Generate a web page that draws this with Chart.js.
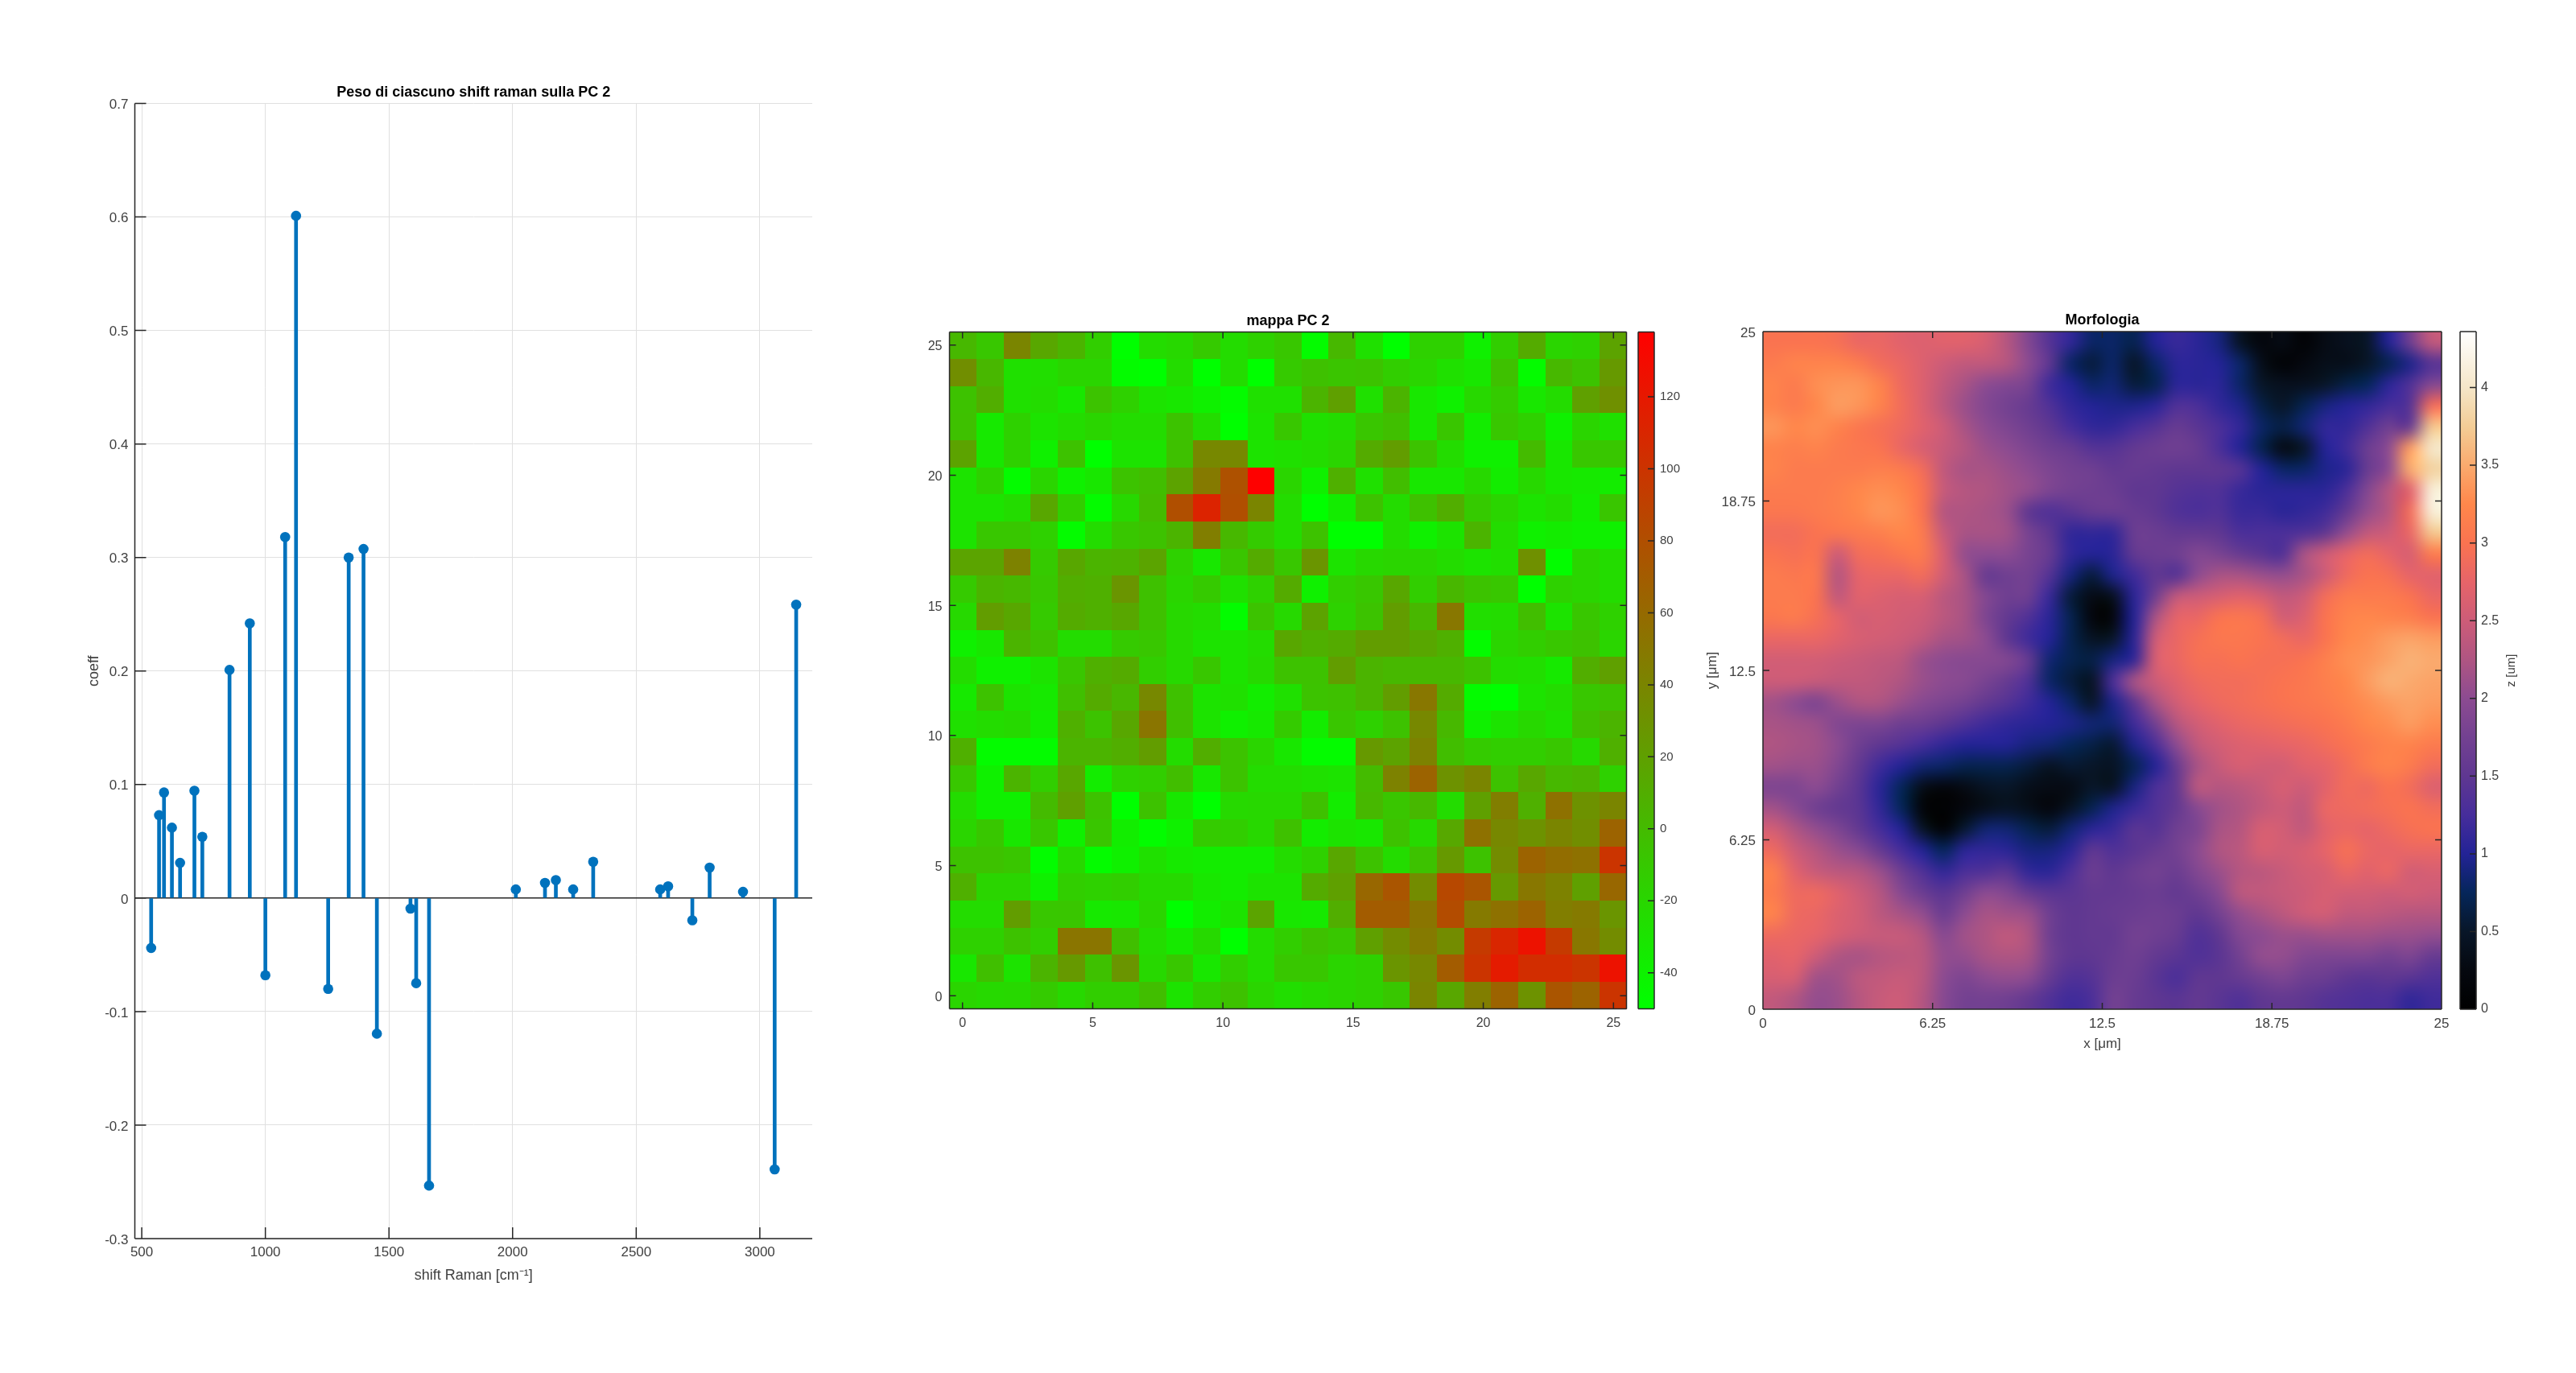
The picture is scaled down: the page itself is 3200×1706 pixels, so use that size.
<!DOCTYPE html>
<html>
<head>
<meta charset="utf-8">
<title>PC 2</title>
<script src="https://cdn.jsdelivr.net/npm/chart.js@4"></script>
<style>
html, body { margin: 0; background: #fff; }
canvas { position: absolute; left: 0; top: 0; }
</style>
</head>
<body>
<canvas id="stem" width="3200" height="1706"></canvas>
<canvas id="pc" width="3200" height="1706"></canvas>
<canvas id="pcBar" width="3200" height="1706"></canvas>
<canvas id="morph" width="3200" height="1706"></canvas>
<canvas id="morphBar" width="3200" height="1706"></canvas>
<script>
// stem plot
const stemShift = [538, 570, 590, 622, 655, 713, 745, 855, 937, 1000, 1080, 1124, 1254, 1337, 1397, 1451, 1587, 1610, 1662, 2013, 2131, 2175, 2245, 2326, 2597, 2629, 2727, 2797, 2932, 3060, 3147];
const stemCoeff = [-0.044, 0.073, 0.093, 0.062, 0.031, 0.0945, 0.054, 0.201, 0.242, -0.068, 0.318, 0.601, -0.08, 0.3, 0.3075, -0.1195, -0.0093, -0.075, -0.2533, 0.0076, 0.0134, 0.0158, 0.0076, 0.032, 0.0076, 0.0103, -0.0196, 0.0268, 0.0055, -0.239, 0.2585];
const shiftTicks = [500, 1000, 1500, 2000, 2500, 3000];
const coeffTicks = [-0.3, -0.2, -0.1, 0, 0.1, 0.2, 0.3, 0.4, 0.5, 0.6, 0.7];

// mappa PC 2, rows from the top of the picture
const pcMap = [
  [2,-9,40,15,5,-14,-50,-24,-21,-11,-24,-16,-9,-47,2,-27,-50,-16,-16,-39,-14,12,-19,-16,18],
  [33,3,-27,-26,-19,-19,-47,-50,-24,-50,-24,-50,-11,-4,-7,-6,-14,-19,-27,-32,-4,-47,2,-6,25],
  [-5,10,-27,-24,-32,-6,-16,-29,-32,-39,-47,-27,-27,5,20,-27,5,-32,-39,-21,-12,-32,-24,20,32],
  [-4,-34,-16,-29,-24,-19,-24,-24,-6,-24,-50,-29,-9,-27,-24,-8,-3,-32,-8,-36,-9,-16,-39,-19,-27],
  [18,-32,-16,-39,-5,-50,-29,-29,-4,38,38,-29,-27,-24,-19,12,22,-6,-24,-39,-39,0,-32,-9,-9],
  [-29,-16,-47,-19,-39,-32,-6,-2,18,48,78,137,-19,-39,8,-27,-2,-32,-32,-21,-36,-21,-32,-34,-36],
  [-29,-29,-24,15,-14,-47,-21,0,80,112,80,40,-24,-50,-36,-5,-24,-4,10,-11,-19,-29,-24,-36,-8],
  [-29,-9,-9,-16,-47,-24,-9,-5,5,45,2,-12,-24,-5,-50,-50,-24,-39,-29,5,-24,-39,-36,-39,-39],
  [17,17,42,-11,15,5,7,17,-16,-32,-8,12,-9,28,-29,-21,-19,-19,-24,-29,-26,32,-48,-19,-24],
  [-11,5,2,-9,10,8,28,-4,-19,-11,-27,-16,12,-39,-14,-9,15,-14,3,-6,-9,-50,-16,-19,-24],
  [-22,22,15,-11,12,8,15,-4,-21,-24,-48,-6,-22,18,-17,-6,22,3,50,-26,-24,-2,-29,-9,-16],
  [-39,-32,5,-4,-24,-24,-11,-9,-22,-29,-29,-24,15,8,12,22,22,15,8,-47,-19,-14,-9,-5,-19],
  [-24,-39,-39,-29,-8,8,12,-14,-22,-9,-29,-22,-5,-5,22,5,2,2,2,-5,-24,-26,-34,10,20],
  [-34,-5,-29,-34,-3,12,3,38,-4,-29,-27,-37,-27,-6,-4,5,22,50,12,-47,-50,-29,-24,-9,-6],
  [-27,-24,-22,-36,8,-6,15,52,-3,-29,-39,-34,-12,-36,-8,-16,-5,38,2,-39,-29,-21,-27,-3,5],
  [8,-47,-47,-47,5,5,10,22,-24,10,-6,-19,-32,-47,-47,25,18,42,-2,-12,-14,-14,-9,-22,8],
  [-9,-39,5,-14,15,-36,-16,-14,-2,-32,-6,-24,-24,-27,-29,0,42,65,30,40,-5,15,2,5,-16],
  [-24,-39,-39,0,20,-5,-50,-5,-32,-50,-22,-21,-21,-4,-36,2,-8,2,-24,20,45,8,55,30,40],
  [-19,-9,-32,-9,-39,-8,-37,-48,-39,-12,-14,-21,-4,-36,-29,-32,-5,-22,14,55,38,30,40,33,65],
  [-5,-5,-8,-48,-21,-47,-39,-27,-34,-36,-37,-37,-24,-16,15,-5,-24,-5,25,-5,35,65,58,55,100],
  [8,-19,-19,-39,-14,-16,-14,-22,-22,-32,-36,-29,-29,12,20,62,75,35,85,75,25,50,42,20,62],
  [-24,-24,22,-9,-8,-34,-32,-19,-50,-37,-29,17,-32,-34,10,70,70,52,82,48,55,65,45,48,28],
  [-16,-16,-5,-14,52,52,-3,-24,-34,-22,-50,-24,-14,-4,-9,20,35,48,35,95,110,125,95,50,35],
  [-32,-3,-29,5,25,-4,28,-21,-9,-32,-14,-24,-9,-9,-19,-16,28,38,70,100,118,105,105,100,125],
  [-19,-22,-21,-12,-21,-14,-14,-2,-29,-14,-5,-19,-26,-22,-19,-16,-9,40,15,45,65,30,75,65,100]
];
const pcTicks = [0, 5, 10, 15, 20, 25];
const pcBarTicks = [-40, -20, 0, 20, 40, 60, 80, 100, 120];
const pcMin = -50;
const pcMax = 138;

// Morfologia, z in um, 32 x 32, rows from the top of the picture
const morphology = [
  [3.0,3.0,3.0,2.95,2.8,2.8,2.7,2.65,2.7,2.7,2.6,2.3,1.9,1.4,1.1,0.8,0.8,0.7,1.0,1.15,1.05,0.9,0.45,0.2,0.3,0.1,0.3,0.4,0.5,1.0,1.7,2.4],
  [3.1,3.2,3.2,3.2,3.1,2.9,2.8,2.65,2.5,2.4,2.4,2.3,2.0,1.5,0.8,0.6,0.8,0.5,0.8,1.05,1.05,1.0,0.8,0.35,0.1,0.25,0.35,0.35,0.5,0.7,0.95,1.4],
  [3.2,3.1,3.3,3.35,3.35,3.2,2.85,2.65,2.4,2.2,2.0,1.9,1.8,1.2,1.0,0.8,0.85,0.6,0.7,1.05,1.05,1.05,0.8,0.5,0.4,0.4,0.5,0.65,0.75,1.05,1.35,1.9],
  [3.2,3.1,3.25,3.4,3.35,3.2,2.9,2.65,2.35,2.1,1.9,1.75,1.6,1.35,1.1,1.0,0.95,0.95,1.05,1.35,1.3,1.1,0.95,0.65,0.5,0.7,0.9,1.0,1.1,1.25,1.4,2.9],
  [3.35,3.25,3.3,3.2,3.05,2.95,2.85,2.7,2.5,2.2,2.0,1.85,1.7,1.5,1.25,1.1,1.1,1.25,1.4,1.6,1.45,1.3,1.1,0.8,0.65,0.85,1.1,1.1,1.35,1.7,1.6,3.7],
  [3.2,3.15,3.2,3.1,3.05,3.0,2.8,2.6,2.45,2.3,2.1,2.0,1.85,1.7,1.6,1.4,1.4,1.55,1.65,1.7,1.6,1.3,1.0,0.7,0.3,0.5,1.0,1.2,1.65,2.0,3.4,4.0],
  [3.2,3.1,3.1,3.1,3.1,3.15,3.1,2.9,2.4,2.2,2.2,2.1,2.0,1.85,1.75,1.7,1.55,1.6,1.55,1.5,1.5,1.5,1.4,1.0,0.8,0.8,0.95,1.05,1.6,2.0,3.5,3.8],
  [3.1,3.1,3.1,3.15,3.25,3.3,3.25,3.0,2.45,2.3,2.25,2.15,2.05,1.85,1.75,1.7,1.65,1.5,1.5,1.4,1.35,1.35,1.15,1.05,1.05,1.05,1.05,1.3,1.9,2.3,2.7,4.1],
  [3.05,3.05,3.1,3.15,3.25,3.35,3.3,3.0,2.3,2.25,2.2,2.1,1.5,1.35,1.45,1.6,1.65,1.6,1.5,1.35,1.3,1.35,1.15,1.15,1.05,1.1,1.2,1.55,2.05,2.3,2.9,4.1],
  [2.9,2.9,3.0,3.05,3.1,3.15,3.25,3.1,2.45,2.2,2.2,2.15,1.8,1.5,1.1,1.1,1.1,1.65,1.65,1.55,1.55,1.5,1.3,1.3,1.3,1.35,1.5,2.05,2.4,2.5,2.8,3.7],
  [3.0,2.95,3.0,2.5,2.9,2.95,3.05,3.1,2.6,2.05,2.0,2.0,1.8,1.6,1.1,1.0,1.05,1.55,1.65,1.7,1.9,1.8,1.6,1.45,1.35,2.2,2.5,2.75,2.9,2.75,2.6,3.1],
  [3.1,3.05,3.05,2.3,2.75,2.8,2.8,2.9,2.55,2.2,1.6,1.7,1.75,1.4,0.9,0.6,0.95,1.2,1.5,1.4,2.0,2.2,2.2,2.1,2.05,2.2,2.5,2.85,3.0,2.95,2.75,2.7],
  [3.1,3.1,3.0,2.4,2.7,2.65,2.6,2.6,2.35,2.2,1.9,1.7,1.7,1.15,0.6,0.3,0.4,1.05,1.7,2.4,2.5,2.6,2.7,2.6,2.4,2.5,2.9,3.1,3.1,3.1,3.0,2.8],
  [3.05,3.1,2.95,2.75,2.55,2.6,2.55,2.5,2.35,2.2,1.85,1.55,1.35,1.05,0.7,0.2,0.2,1.0,2.2,2.75,2.8,3.0,3.05,2.95,2.55,2.65,3.0,3.2,3.25,3.2,3.15,3.0],
  [2.8,2.8,2.8,2.7,2.6,2.55,2.5,2.4,2.2,2.15,2.0,1.5,1.2,1.0,0.7,0.45,0.5,1.05,2.5,2.8,2.95,3.05,3.05,3.0,2.9,2.8,3.0,3.25,3.3,3.4,3.45,3.4],
  [2.55,2.55,2.55,2.5,2.45,2.4,2.35,2.1,2.0,1.95,1.95,1.9,1.6,0.85,0.7,0.65,0.9,1.1,2.6,2.8,2.95,2.95,3.0,2.95,2.95,3.0,3.15,3.3,3.35,3.45,3.55,3.5],
  [2.5,2.5,2.45,2.4,2.4,2.35,2.25,2.1,2.0,1.95,1.8,1.6,1.35,0.8,0.6,0.45,1.3,2.2,2.5,2.7,2.85,2.9,2.9,2.95,3.0,3.05,3.15,3.25,3.4,3.55,3.5,3.45],
  [2.15,2.0,1.85,2.1,2.25,2.25,2.1,1.95,1.85,1.75,1.55,1.4,1.2,1.0,0.8,0.5,0.95,1.5,2.2,2.55,2.75,2.85,2.9,2.95,3.0,3.05,3.1,3.2,3.3,3.4,3.45,3.4],
  [2.2,2.15,2.1,1.9,1.85,1.85,1.7,1.65,1.5,1.35,1.2,1.1,1.05,1.0,0.95,0.85,0.85,1.2,1.75,2.3,2.55,2.7,2.8,2.85,2.9,2.95,3.0,3.1,3.25,3.3,3.4,3.3],
  [2.25,2.2,2.15,2.0,1.7,1.5,1.4,1.25,1.1,1.0,1.0,1.0,0.9,0.85,0.75,0.65,0.55,0.95,1.3,2.0,2.4,2.55,2.65,2.7,2.75,2.8,2.9,3.0,3.1,3.2,3.2,3.1],
  [2.15,2.1,2.1,1.9,1.55,1.2,1.0,0.85,0.8,0.7,0.7,0.7,0.6,0.45,0.55,0.5,0.45,0.7,1.0,1.6,2.2,2.45,2.6,2.55,2.55,2.7,2.75,2.9,3.1,3.2,3.1,2.9],
  [1.85,1.85,2.0,1.75,1.45,1.05,0.75,0.35,0.2,0.3,0.45,0.5,0.35,0.3,0.3,0.5,0.45,0.9,1.3,1.55,2.35,2.3,2.35,2.45,2.6,2.5,2.7,2.9,2.85,3.0,2.9,2.65],
  [2.15,1.95,1.7,1.55,1.45,1.1,0.75,0.15,0.05,0.2,0.35,0.45,0.35,0.2,0.45,0.7,0.95,1.15,1.35,1.55,1.95,2.15,2.25,2.4,2.5,2.4,2.8,2.85,2.9,2.95,3.0,2.9],
  [2.55,2.25,2.05,1.85,1.55,1.25,1.0,0.5,0.1,0.55,0.85,0.85,0.7,0.6,0.85,1.05,1.15,1.45,1.4,1.7,1.85,2.2,2.3,2.6,2.55,2.4,2.7,2.8,2.75,2.85,2.95,3.0],
  [2.85,2.5,2.3,2.1,1.95,1.6,1.25,1.0,0.75,1.05,1.1,1.05,0.9,0.9,1.05,1.5,1.35,1.45,1.6,1.75,2.0,2.25,2.35,2.6,2.55,2.6,2.75,2.95,2.8,2.75,2.8,2.8],
  [3.15,2.7,2.45,2.35,2.3,2.1,1.7,1.35,1.1,1.3,1.35,1.45,1.1,1.05,1.3,1.65,1.5,1.65,1.75,1.65,1.9,2.1,2.3,2.35,2.45,2.55,2.6,2.8,2.7,2.8,2.55,2.6],
  [3.1,2.85,2.85,2.7,2.5,2.3,1.95,1.65,1.45,1.7,2.0,1.9,1.6,1.45,1.45,1.55,1.55,1.6,1.65,1.55,1.7,1.95,2.35,2.4,2.45,2.5,2.6,2.55,2.55,2.5,2.55,2.5],
  [3.2,2.85,2.8,2.65,2.55,2.35,2.2,2.05,1.65,2.0,2.2,2.15,2.1,1.7,1.5,1.55,1.6,1.65,1.7,1.65,1.5,1.75,2.05,2.2,2.35,2.5,2.55,2.4,2.4,2.35,2.3,2.3],
  [2.85,2.8,2.75,2.6,2.5,2.45,2.45,2.3,1.95,2.15,2.25,2.4,2.25,1.7,1.5,1.55,1.55,1.75,1.7,1.6,1.35,1.5,1.9,2.0,2.1,2.1,2.15,2.15,2.15,2.1,2.1,2.05],
  [2.7,2.75,2.5,2.25,2.2,2.3,2.35,2.35,2.05,2.05,2.2,2.25,2.2,1.75,1.5,1.5,1.6,1.7,1.55,1.45,1.35,1.45,1.75,2.05,2.05,1.9,1.85,1.85,1.85,1.75,1.85,1.6],
  [2.6,2.6,2.15,2.15,2.35,2.4,2.45,2.35,2.0,1.85,2.0,2.05,2.0,1.6,1.35,1.4,1.65,1.65,1.45,1.3,1.5,1.5,1.6,1.75,1.85,1.7,1.65,1.5,1.45,1.5,1.45,1.35],
  [2.4,2.25,2.05,2.1,2.3,2.45,2.5,2.3,1.95,1.75,1.75,1.7,1.55,1.35,1.2,1.3,1.75,1.6,1.5,1.45,1.55,1.45,1.35,1.5,1.55,1.5,1.4,1.35,1.3,1.3,1.1,1.2]
];
const morphTicks = [0, 6.25, 12.5, 18.75, 25];
const morphBarTicks = [0, 0.5, 1, 1.5, 2, 2.5, 3, 3.5, 4];
const zMax = 4.36;

// colormap of the morphology
const zStops = [0, 0.25, 0.5, 0.75, 1, 1.25, 1.5, 1.75, 2, 2.25, 2.5, 2.75, 3, 3.25, 3.5, 3.75, 4, 4.36];
const zColors = [[0,0,0],[5,8,15],[8,22,40],[5,38,90],[35,35,150],[70,45,155],[95,55,145],[115,65,145],[140,75,145],[175,85,130],[205,92,120],[230,100,105],[250,115,80],[255,135,75],[250,170,110],[243,205,150],[245,230,200],[255,255,255]];

const stemColor = '#0072BD';
const axisColor = '#262626';
const textColor = '#404040';
const fontName = '"Liberation Sans", Arial, sans-serif';

Chart.defaults.animation = false;
Chart.defaults.responsive = false;
Chart.defaults.devicePixelRatio = 1;
Chart.defaults.font.family = fontName;
Chart.defaults.color = textColor;
Chart.defaults.plugins.legend.display = false;
Chart.defaults.plugins.tooltip.enabled = false;

function pcColor(v) {
    const t = Math.min(1, Math.max(0, (v - pcMin) / (pcMax - pcMin)));
    return `rgb(${Math.round(255 * t)},${Math.round(255 * (1 - t))},0)`;
}

function zColor(v) {
    let i = 0;
    while (i < zStops.length - 2 && v > zStops[i + 1]) i++;
    const t = Math.min(1, Math.max(0, (v - zStops[i]) / (zStops[i + 1] - zStops[i])));
    return zColors[i].map((c, k) => Math.round(c + (zColors[i + 1][k] - c) * t));
}

// inward tick marks and axis lines, as the library only draws them outward
const framePlugin = {
    id: 'frame',
    afterDraw(chart, args, o) {
        const { ctx, chartArea: a, scales: { x, y } } = chart;
        const lines = o.lines || '';
        const marks = o.marks || '';
        ctx.save();
        ctx.strokeStyle = axisColor;
        ctx.lineWidth = 1.5;
        ctx.beginPath();
        if (lines.includes('l')) { ctx.moveTo(a.left, a.top); ctx.lineTo(a.left, a.bottom); }
        if (lines.includes('r')) { ctx.moveTo(a.right, a.top); ctx.lineTo(a.right, a.bottom); }
        if (lines.includes('t')) { ctx.moveTo(a.left, a.top); ctx.lineTo(a.right, a.top); }
        if (lines.includes('b')) { ctx.moveTo(a.left, a.bottom); ctx.lineTo(a.right, a.bottom); }
        y.ticks.forEach(t => {
            const p = y.getPixelForValue(t.value);
            if (marks.includes('l')) { ctx.moveTo(a.left, p); ctx.lineTo(a.left + o.len, p); }
            if (marks.includes('r')) { ctx.moveTo(a.right, p); ctx.lineTo(a.right - o.len, p); }
        });
        if (x) x.ticks.forEach(t => {
            const p = x.getPixelForValue(t.value);
            if (marks.includes('b')) { ctx.moveTo(p, a.bottom); ctx.lineTo(p, a.bottom - o.len); }
            if (marks.includes('t')) { ctx.moveTo(p, a.top); ctx.lineTo(p, a.top + o.len); }
        });
        ctx.stroke();
        ctx.restore();
    }
};

// cells of the PC map, positioned by the scales
const cellsPlugin = {
    id: 'cells',
    beforeDatasetsDraw(chart) {
        const { ctx, scales: { x, y } } = chart;
        const half = pcStep / 2;
        chart.data.datasets[0].data.forEach(c => {
            const l = Math.round(x.getPixelForValue(c.x - half));
            const r = Math.round(x.getPixelForValue(c.x + half));
            const t = Math.round(y.getPixelForValue(c.y + half));
            const b = Math.round(y.getPixelForValue(c.y - half));
            ctx.fillStyle = pcColor(c.v);
            ctx.fillRect(l, t, r - l, b - t);
        });
    }
};

// morphology: one pixel per value, then stretched over the scales with smoothing
const surfacePlugin = {
    id: 'surface',
    beforeDatasetsDraw(chart) {
        const { ctx, scales: { x, y } } = chart;
        const n = morphology.length;
        const off = document.createElement('canvas');
        off.width = n;
        off.height = n;
        const octx = off.getContext('2d');
        const img = octx.createImageData(n, n);
        chart.data.datasets[0].data.forEach(c => {
            const k = (c.row * n + c.col) * 4;
            const rgb = zColor(c.v);
            img.data[k] = rgb[0];
            img.data[k + 1] = rgb[1];
            img.data[k + 2] = rgb[2];
            img.data[k + 3] = 255;
        });
        octx.putImageData(img, 0, 0);
        const l = x.getPixelForValue(0);
        const r = x.getPixelForValue(25);
        const t = y.getPixelForValue(25);
        const b = y.getPixelForValue(0);
        ctx.save();
        ctx.imageSmoothingEnabled = true;
        ctx.imageSmoothingQuality = 'high';
        ctx.drawImage(off, l, t, r - l, b - t);
        ctx.restore();
    }
};

// colorbar ramp; stops are given as [value, css colour]
const rampPlugin = {
    id: 'ramp',
    beforeDatasetsDraw(chart, args, o) {
        const { ctx, chartArea: a, scales: { y } } = chart;
        const g = ctx.createLinearGradient(0, y.getPixelForValue(y.min), 0, y.getPixelForValue(y.max));
        o.stops.forEach(s => g.addColorStop((s[0] - y.min) / (y.max - y.min), s[1]));
        ctx.fillStyle = g;
        ctx.fillRect(a.left, a.top, a.right - a.left, a.bottom - a.top);
    }
};

// rotated bottom-to-top label next to the colorbar
const sideLabelPlugin = {
    id: 'sideLabel',
    afterDraw(chart, args, o) {
        if (!o.text) return;
        const { ctx, chartArea: a } = chart;
        ctx.save();
        ctx.translate(a.right + o.offset, (a.top + a.bottom) / 2);
        ctx.rotate(-Math.PI / 2);
        ctx.textAlign = 'center';
        ctx.textBaseline = 'middle';
        ctx.font = `15px ${fontName}`;
        ctx.fillStyle = textColor;
        ctx.fillText(o.text, 0, 0);
        ctx.restore();
    }
};

const titleBox = 24.6;

function padFor(area, yWidth, xHeight, hasTitle, yRight) {
    return {
        left: area.left - (yRight ? 0 : yWidth),
        right: 3200 - area.right - (yRight ? yWidth : 0),
        top: area.top - (hasTitle ? titleBox : 0),
        bottom: 1706 - area.bottom - xHeight
    };
}

function titleOpts(text) {
    return {
        display: true,
        text: text,
        fullSize: false,
        color: '#000',
        font: { size: 18, weight: 'bold' },
        padding: { top: 0, bottom: 3 }
    };
}

function axisOpts(min, max, ticks, fontSize, padding, fitKey, fitSize, titleText) {
    return {
        type: 'linear',
        min: min,
        max: max,
        offset: false,
        afterBuildTicks: s => { s.ticks = ticks.map(v => ({ value: v })); },
        afterFit: s => { s[fitKey] = fitSize; },
        border: { display: false },
        grid: { display: false, drawTicks: false, offset: false },
        ticks: {
            autoSkip: false,
            maxRotation: 0,
            padding: padding,
            font: { size: fontSize },
            callback: v => String(v)
        },
        title: titleText ? { display: true, text: titleText, font: { size: 17 }, padding: 0 } : { display: false }
    };
}

// coefficient stems
const stemArea = { left: 167.5, right: 1009, top: 128.5, bottom: 1539 };
const stemPoints = stemShift.map((x, i) => ({ x: x, y: stemCoeff[i] }));
const stemX = axisOpts(472, 3212, shiftTicks, 17, 7, 'height', 57, 'shift Raman [cm\u207B\u00B9]');
const stemY = axisOpts(-0.3, 0.7, coeffTicks, 17, 8, 'width', 61, 'coeff');
stemX.title.font.size = 18;
stemY.title.font.size = 18;
stemY.ticks.labelOffset = 2;
stemX.grid = { display: true, drawTicks: false, offset: false, color: '#e0e0e0', lineWidth: 1 };
stemY.grid = {
    display: true,
    drawTicks: false,
    color: c => (c.tick && c.tick.value === 0 ? axisColor : '#e0e0e0'),
    lineWidth: c => (c.tick && c.tick.value === 0 ? 1.5 : 1)
};

new Chart(document.getElementById('stem'), {
    type: 'bar',
    data: {
        datasets: [
            { type: 'bar', data: stemPoints, backgroundColor: stemColor, barThickness: 4, order: 2 },
            { type: 'scatter', data: stemPoints, pointRadius: 6.3, pointBackgroundColor: stemColor, pointBorderWidth: 0, showLine: false, order: 1 }
        ]
    },
    options: {
        layout: { padding: padFor(stemArea, 61, 57, true) },
        scales: { x: stemX, y: stemY },
        plugins: {
            title: titleOpts('Peso di ciascuno shift raman sulla PC 2'),
            frame: { lines: 'lb', marks: 'lb', len: 14 }
        }
    },
    plugins: [framePlugin]
});

// PC map
const pcStep = 26 / 25;
const pcArea = { left: 1179.5, right: 2020.5, top: 412.5, bottom: 1253.5 };
const pcCells = [];
pcMap.forEach((row, r) => row.forEach((v, c) => {
    pcCells.push({ x: -0.5 + (c + 0.5) * pcStep, y: 25.5 - (r + 0.5) * pcStep, v: v });
}));
const pcY = axisOpts(-0.5, 25.5, pcTicks, 16, 9, 'width', 50);
pcY.ticks.labelOffset = 2;

new Chart(document.getElementById('pc'), {
    type: 'scatter',
    data: { datasets: [{ data: pcCells, pointRadius: 0 }] },
    options: {
        layout: { padding: padFor(pcArea, 50, 40, true) },
        scales: {
            x: axisOpts(-0.5, 25.5, pcTicks, 16, 8, 'height', 40),
            y: pcY
        },
        plugins: {
            title: titleOpts('mappa PC 2'),
            frame: { lines: 'lbtr', marks: 'lbtr', len: 8 }
        }
    },
    plugins: [cellsPlugin, framePlugin]
});

const pcBarArea = { left: 2035, right: 2055, top: 412.5, bottom: 1253.5 };
const pcBarY = axisOpts(pcMin, pcMax, pcBarTicks, 15, 7, 'width', 45);
pcBarY.position = 'right';

new Chart(document.getElementById('pcBar'), {
    type: 'scatter',
    data: { datasets: [] },
    options: {
        layout: { padding: padFor(pcBarArea, 45, 0, false, true) },
        scales: { x: { display: false, min: 0, max: 1 }, y: pcBarY },
        plugins: {
            ramp: { stops: [[pcMin, 'rgb(0,255,0)'], [pcMax, 'rgb(255,0,0)']] },
            frame: { lines: 'lbtr', marks: 'r', len: 8 }
        }
    },
    plugins: [rampPlugin, framePlugin]
});

// morphology
const morphArea = { left: 2190, right: 3033, top: 412, bottom: 1254 };
const morphCell = 25 / morphology.length;
const morphCells = [];
morphology.forEach((row, r) => row.forEach((v, c) => {
    morphCells.push({ x: (c + 0.5) * morphCell, y: 25 - (r + 0.5) * morphCell, v: v, row: r, col: c });
}));
const morphY = axisOpts(0, 25, morphTicks, 17, 9, 'width', 73, 'y [\u03BCm]');
morphY.ticks.labelOffset = 2;

new Chart(document.getElementById('morph'), {
    type: 'scatter',
    data: { datasets: [{ data: morphCells, pointRadius: 0 }] },
    options: {
        layout: { padding: padFor(morphArea, 73, 53.5, true) },
        scales: {
            x: axisOpts(0, 25, morphTicks, 17, 8, 'height', 53.5, 'x [\u03BCm]'),
            y: morphY
        },
        plugins: {
            title: titleOpts('Morfologia'),
            frame: { lines: 'lbtr', marks: 'lbtr', len: 8 }
        }
    },
    plugins: [surfacePlugin, framePlugin]
});

const morphBarArea = { left: 3056, right: 3076, top: 412, bottom: 1254 };
const morphBarY = axisOpts(0, zMax, morphBarTicks, 16, 6, 'width', 60);
morphBarY.position = 'right';

new Chart(document.getElementById('morphBar'), {
    type: 'scatter',
    data: { datasets: [] },
    options: {
        layout: { padding: padFor(morphBarArea, 60, 0, false, true) },
        scales: { x: { display: false, min: 0, max: 1 }, y: morphBarY },
        plugins: {
            ramp: { stops: zStops.map((v, i) => [v, `rgb(${zColors[i].join(',')})`]) },
            frame: { lines: 'lbtr', marks: 'r', len: 8 },
            sideLabel: { text: 'z [um]', offset: 43.5 }
        }
    },
    plugins: [rampPlugin, framePlugin, sideLabelPlugin]
});
</script>
</body>
</html>
